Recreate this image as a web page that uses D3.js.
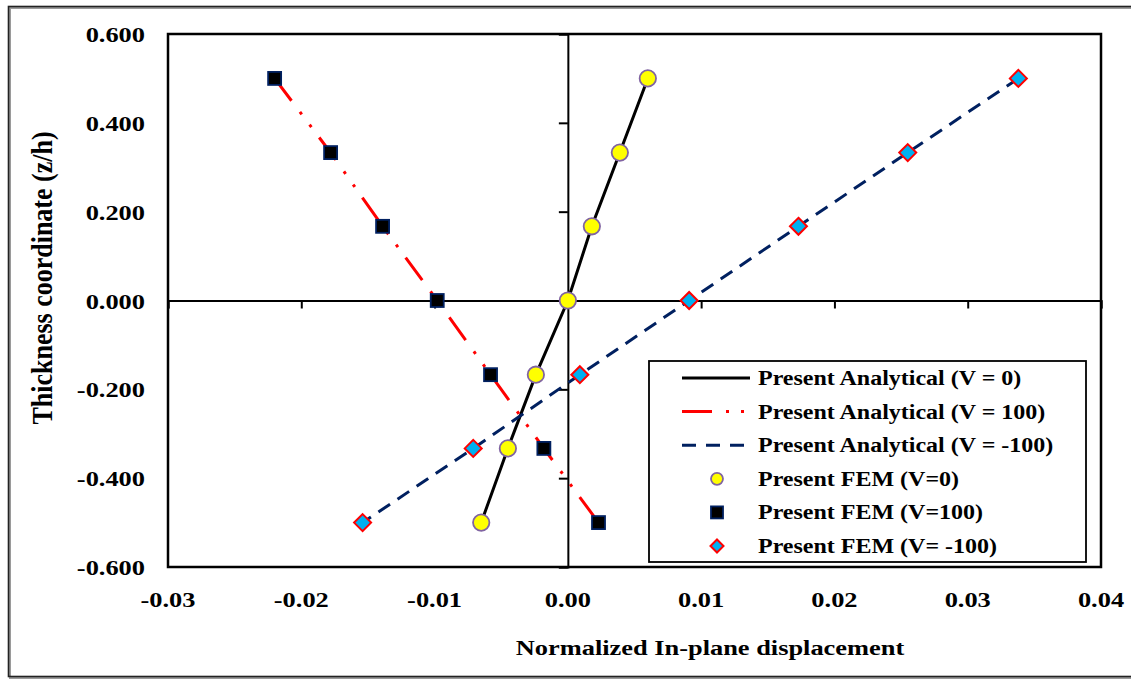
<!DOCTYPE html>
<html><head><meta charset="utf-8">
<script src="https://cdn.jsdelivr.net/npm/d3@7"></script>
<style>html,body{margin:0;padding:0;background:#fff;}svg{display:block;}</style>
</head><body>
<svg id="c" width="1131" height="681"></svg>
<script>
const zLevels = [0.5, 0.333, 0.167, 0.0, -0.167, -0.333, -0.5];
const femV0 = [0.0060, 0.0039, 0.0018, 0.0000, -0.0024, -0.0045, -0.0065];
const femV100 = [-0.0220, -0.0178, -0.0139, -0.0098, -0.0058, -0.0018, 0.0023];
const femVm100 = [0.0338, 0.0255, 0.0173, 0.0091, 0.0009, -0.0071, -0.0154];
const anaV0 = [0.0060, 0.0039, 0.0018, 0.0000, -0.0024, -0.0045, -0.0065];
const anaV100 = [-0.0220, -0.0178, -0.0139, -0.0098, -0.0058, -0.0018, 0.0023];
const anaVm100 = [0.0338, 0.0255, 0.0173, 0.0091, 0.0009, -0.0071, -0.0154];
const xTicks = [-0.03, -0.02, -0.01, 0.00, 0.01, 0.02, 0.03, 0.04];
const yTicks = [0.6, 0.4, 0.2, 0.0, -0.2, -0.4, -0.6];
const legendLabels = ["Present Analytical (V = 0)", "Present Analytical (V = 100)", "Present Analytical (V = -100)",
  "Present FEM (V=0)", "Present FEM (V=100)", "Present FEM (V= -100)"];

const svg = d3.select("#c");
const font = "'Liberation Serif','Times New Roman',serif";
const SX = 1.2; // horizontal stretch of the text, as in the reference
const L = 168, R = 1101, T = 34, B = 567;
const x = d3.scaleLinear().domain([-0.03, 0.04]).range([L, R]);
const y = d3.scaleLinear().domain([-0.6, 0.6]).range([B, T]);

function txt(g, tx, ty, s, size, anchor, rot, sx) {
  return g.append("text")
    .attr("transform", `translate(${tx},${ty}) scale(${sx || SX},1)` + (rot ? ` rotate(${rot})` : ""))
    .attr("text-anchor", anchor).attr("font-family", font).attr("font-weight", "bold")
    .attr("font-size", size).attr("fill", "#000").text(s);
}

// outer frame
svg.append("rect").attr("x", 10).attr("y", 8).attr("width", 1140).attr("height", 670)
  .attr("fill", "none").attr("stroke", "#9a9a9a").attr("stroke-width", 2);
svg.append("rect").attr("x", 8.5).attr("y", 6.5).attr("width", 1140).attr("height", 670)
  .attr("fill", "none").attr("stroke", "#222").attr("stroke-width", 1.6);

// plot border
svg.append("rect").attr("x", L).attr("y", T).attr("width", R - L).attr("height", B - T)
  .attr("fill", "none").attr("stroke", "#000").attr("stroke-width", 2.5);

// axes through zero
const xAxis = d3.axisBottom(x).tickValues(xTicks).tickSize(8).tickFormat("");
const gx = svg.append("g").attr("transform", `translate(0,${y(0)})`).call(xAxis);
const yAxis = d3.axisLeft(y).tickValues(yTicks).tickSize(9).tickFormat("");
const gy = svg.append("g").attr("transform", `translate(${x(0)},0)`).call(yAxis);
[gx, gy].forEach(g => {
  g.select(".domain").attr("stroke", "#000").attr("stroke-width", 2);
  g.selectAll(".tick line").attr("stroke", "#000").attr("stroke-width", 2);
});

// tick labels on plot edges
const lab = svg.append("g");
xTicks.forEach(d => txt(lab, x(d), 607, d3.format(".2f")(d).replace("−", "-"), 22, "middle"));
yTicks.forEach(d => txt(lab, 145, y(d) + 8, d3.format(".3f")(d).replace("−", "-"), 22, "end"));

// axis titles
txt(svg, 710, 655, "Normalized In-plane displacement", 22, "middle");
txt(svg, 52, 278, "Thickness coordinate (z/h)", 26, "middle", -90, 1.1);

// lines
const line = d3.line().x(d => x(d[0])).y(d => y(d[1]));
const lineStyles = [
  {data: anaV0, color: "#000000", dash: null, legDash: null},
  {data: anaV100, color: "#FF0000", dash: "28,14,3,13,3,13", legDash: "30,14,3,12,3,20"},
  {data: anaVm100, color: "#002060", dash: "14,9", legDash: "14,10"}
];
lineStyles.forEach(s => {
  svg.append("path").datum(s.data.map((v, i) => [v, zLevels[i]]))
    .attr("d", line).attr("fill", "none").attr("stroke", s.color)
    .attr("stroke-width", 3).attr("stroke-dasharray", s.dash);
});

// markers
const drawCircle = (g, cx, cy, r) => g.append("circle").attr("cx", cx).attr("cy", cy).attr("r", r)
  .attr("fill", "#FFFF00").attr("stroke", "#8064A2").attr("stroke-width", 1.8);
const drawSquare = (g, cx, cy, h) => g.append("rect").attr("x", cx - h).attr("y", cy - h)
  .attr("width", 2 * h).attr("height", 2 * h).attr("fill", "#000").attr("stroke", "#002060").attr("stroke-width", 1.8);
const drawDiamond = (g, cx, cy, h) => g.append("path")
  .attr("d", `M${cx},${cy - h}L${cx + h},${cy}L${cx},${cy + h}L${cx - h},${cy}Z`)
  .attr("fill", "#00B0F0").attr("stroke", "#FF0000").attr("stroke-width", 2);

const mg = svg.append("g");
femV0.forEach((v, i) => drawCircle(mg, x(v), y(zLevels[i]), 8.2));
femV100.forEach((v, i) => drawSquare(mg, x(v), y(zLevels[i]), 6.5));
femVm100.forEach((v, i) => drawDiamond(mg, x(v), y(zLevels[i]), 8.5));

// legend
const lg = svg.append("g");
lg.append("rect").attr("x", 649).attr("y", 361).attr("width", 437).attr("height", 201)
  .attr("fill", "#fff").attr("stroke", "#000").attr("stroke-width", 1.8);
const rowY = i => 378 + i * 33.6;
legendLabels.forEach((t, i) => txt(lg, 758, rowY(i) + 7, t, 20, "start"));
lineStyles.forEach((s, i) => {
  lg.append("line").attr("x1", 682).attr("x2", 750).attr("y1", rowY(i)).attr("y2", rowY(i))
    .attr("stroke", s.color).attr("stroke-width", 3).attr("stroke-dasharray", s.legDash);
});
drawCircle(lg, 717, rowY(3), 6);
drawSquare(lg, 717, rowY(4), 6);
drawDiamond(lg, 717, rowY(5), 6.5);
</script>
</body></html>
